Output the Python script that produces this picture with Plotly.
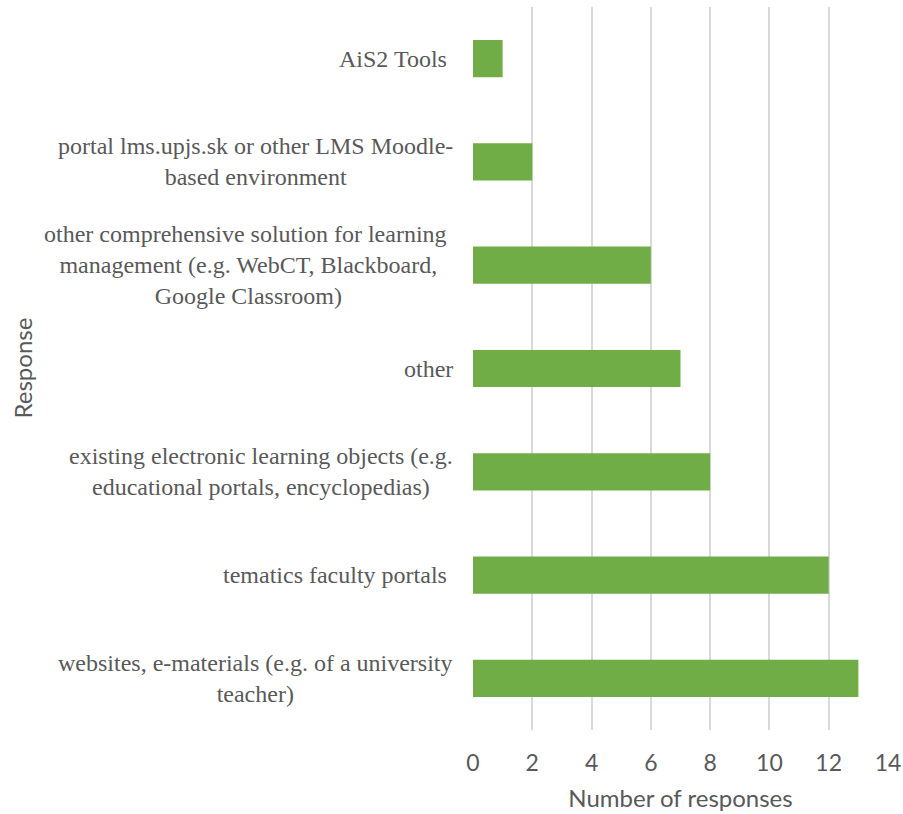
import plotly.graph_objects as go

categories = [
    "websites, e-materials (e.g. of a university<br>teacher)",
    "tematics faculty portals ",
    "existing electronic learning objects (e.g.<br>educational portals, encyclopedias)",
    "other",
    "other comprehensive solution for learning <br>management (e.g. WebCT, Blackboard,<br>Google Classroom)",
    "portal lms.upjs.sk or other LMS Moodle-<br>based environment",
    "AiS2 Tools ",
]
responses = [13, 12, 8, 7, 6, 2, 1]
x_ticks = [0, 2, 4, 6, 8, 10, 12, 14]

grey = "#595959"
W, H = 903, 814
L, R, T, B = 473, 15, 7, 84
plot_w = W - L - R

fig = go.Figure(go.Bar(
    x=responses,
    y=categories,
    orientation="h",
    marker=dict(color="#70AD47", line=dict(width=0)),
))

# category labels: block right-aligned to the axis, lines centred within it
for cat in categories:
    fig.add_annotation(
        x=0, xref="paper", y=cat, yref="y",
        text=cat, showarrow=False,
        xanchor="right", align="center", xshift=-18,
        font=dict(family="Liberation Serif", size=24, color=grey),
    )

fig.add_annotation(
    x=(22 - L) / plot_w, xref="paper", y=0.5, yref="paper",
    text="Response", showarrow=False, textangle=-90,
    xanchor="center", yanchor="middle",
    font=dict(family="Lato", size=24, color=grey),
)

fig.update_layout(
    width=W, height=H,
    margin=dict(l=L, r=R, t=T, b=B),
    plot_bgcolor="white", paper_bgcolor="white",
    bargap=0.64,
    showlegend=False,
    xaxis=dict(
        range=[0, 14], tickvals=x_ticks, automargin=False,
        showgrid=True, gridcolor="#D9D9D9", gridwidth=1.5,
        zeroline=False, showline=False,
        ticks="", ticklen=0, ticklabelstandoff=17,
        tickfont=dict(family="Lato", size=23, color=grey),
        title=dict(text="Number of responses", standoff=15,
                   font=dict(family="Lato", size=24, color=grey)),
    ),
    yaxis=dict(showticklabels=False, showgrid=False, zeroline=False,
               showline=False, ticks="", automargin=False),
)

# drop the default page margin so the figure fills the window exactly
fig.write_html("out.html",
               config={"displayModeBar": False},
               post_script="document.body.style.margin='0';"
                           "document.body.style.overflow='hidden';")
